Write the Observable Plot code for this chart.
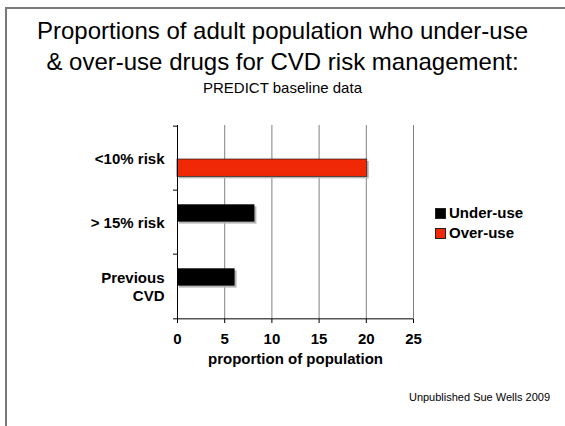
<!DOCTYPE html>
<html>
<head>
<meta charset="utf-8">
<script src="https://cdn.jsdelivr.net/npm/d3@7"></script>
<script src="https://cdn.jsdelivr.net/npm/@observablehq/plot@0.6"></script>
<style>
  html, body { margin: 0; padding: 0; background: #fff; overflow: hidden; }
  #wrap { position: relative; width: 565px; height: 426px; overflow: hidden; font-family: "Liberation Sans", Arial, sans-serif; color: #000; }
  #border { position: absolute; left: 5px; top: 7px; width: 620px; height: 480px; border: 2px solid #7a7a7a; }
  #chart { position: absolute; left: 0; top: 0; }
  .t { position: absolute; left: 0; width: 565px; text-align: center; white-space: nowrap; }
  #title { top: 15px; font-size: 24px; line-height: 31px; }
  #subtitle { top: 79px; font-size: 15px; line-height: 18px; }
  #legend { position: absolute; left: 435px; top: 203px; font-size: 15px; font-weight: bold; line-height: 20px; }
  .li { display: flex; align-items: center; height: 20px; }
  .sw { width: 11px; height: 11px; box-sizing: border-box; border: 1px solid #222; margin-right: 3px; }
  #caption { position: absolute; right: 15px; top: 391px; font-size: 11px; line-height: 13px; }
</style>
</head>
<body>
<div id="wrap">
  <div id="border"></div>
  <div id="chart"></div>
  <div class="t" id="title">Proportions of adult population who under-use<br>&amp; over-use drugs for CVD risk management:</div>
  <div class="t" id="subtitle">PREDICT baseline data</div>
  <div id="legend"></div>
  <div id="caption">Unpublished Sue Wells 2009</div>
</div>
<script>
const categories = ["<10% risk", "> 15% risk", "Previous CVD"];
const categoryLabels = ["<10% risk", "> 15% risk", "Previous\nCVD"];
const underUse = [null, 8.2, 6.1];
const overUse = [20.1, null, null];
const xTicks = [0, 5, 10, 15, 20, 25];
const seriesNames = ["Under-use", "Over-use"];
const seriesColors = ["#000000", "#f02805"];

const under = categories.map((c, i) => ({cat: c, v: underUse[i]})).filter(d => d.v != null);
const over = categories.map((c, i) => ({cat: c, v: overUse[i]})).filter(d => d.v != null);
const labels = categories.map((c, i) => ({cat: c, label: categoryLabels[i]}));

const W = 565, H = 426, mT = 125, mB = 107, mL = 177, mR = 152;
const band = (H - mT - mB) / categories.length;
const half = band / 2;
const unit = (W - mL - mR) / 25;

const chart = Plot.plot({
  width: W, height: H,
  marginTop: mT, marginBottom: mB, marginLeft: mL, marginRight: mR,
  style: {fontFamily: "'Liberation Sans', Arial, sans-serif", fontSize: "15px", fontWeight: "bold", color: "#000", background: "transparent"},
  x: {domain: [0, 25], ticks: xTicks, label: null},
  y: {domain: categories, padding: 0, label: null, axis: null},
  marks: [
    Plot.ruleX(xTicks.slice(1), {stroke: "#808080", strokeWidth: 1}),
    // shadows
    Plot.barX(under, {y: "cat", x: "v", insetTop: 14.3, insetBottom: band - 32.3, dx: 2, dy: 2, fill: "#b5b5b5"}),
    Plot.barX(over, {y: "cat", x: "v", insetTop: 33, insetBottom: band - 51, dx: 2, dy: 2, fill: "#b5b5b5"}),
    // bars
    Plot.barX(under, {y: "cat", x: "v", insetTop: 14.3, insetBottom: band - 32.3, fill: seriesColors[0]}),
    Plot.barX(over, {y: "cat", x: "v", insetTop: 33, insetBottom: band - 51, fill: seriesColors[1], stroke: "#222", strokeWidth: 0.7}),
    // axis lines
    Plot.ruleX([0], {stroke: "#000", strokeWidth: 1}),
    Plot.ruleY([categories[categories.length - 1]], {y: d => d, dy: half, x1: 0, x2: 25, stroke: "#000", strokeWidth: 1}),
    // category boundary ticks
    Plot.ruleY(categories, {y: d => d, dy: -half, x1: -4 / unit, x2: 0, stroke: "#000"}),
    Plot.ruleY([categories[categories.length - 1]], {y: d => d, dy: half, x1: -4 / unit, x2: 0, stroke: "#000"}),
    Plot.axisX({ticks: xTicks, tickSize: 4, tickPadding: 10, label: null, fontSize: 15, fontWeight: "bold"}),
    Plot.text(labels, {y: "cat", text: "label", frameAnchor: "left", dx: -13, textAnchor: "end", lineHeight: 1.2, fontSize: 15, fontWeight: "bold", fill: "#000"}),
    Plot.text(["proportion of population"], {frameAnchor: "bottom", dy: 44, fontSize: 15, fontWeight: "bold", fill: "#000"})
  ]
});
document.getElementById("chart").appendChild(chart);

const legend = document.getElementById("legend");
seriesNames.forEach((n, i) => {
  const row = document.createElement("div");
  row.className = "li";
  const sw = document.createElement("span");
  sw.className = "sw";
  sw.style.background = seriesColors[i];
  const tx = document.createElement("span");
  tx.textContent = n;
  row.appendChild(sw);
  row.appendChild(tx);
  legend.appendChild(row);
});
</script>
</body>
</html>
